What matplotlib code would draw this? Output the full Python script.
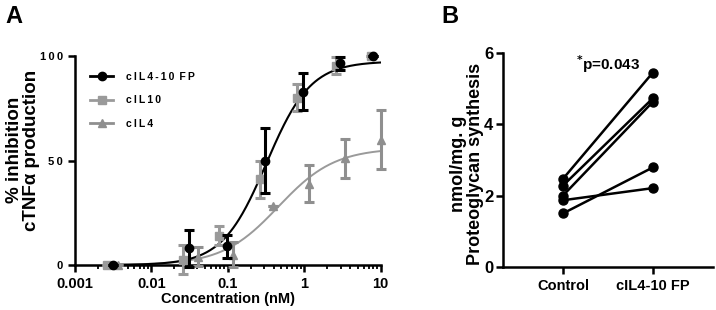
import numpy as np
import matplotlib
matplotlib.use("Agg")
import matplotlib.pyplot as plt
from matplotlib.ticker import LogLocator, NullFormatter, FixedLocator

plt.rcParams["font.family"] = ["Liberation Sans", "DejaVu Sans"]
plt.rcParams["font.weight"] = "bold"

# panel A: dose response (concentration nM, % inhibition, SEM)
fp_conc = [0.0031, 0.031, 0.098, 0.31, 0.97, 2.9, 8.0]
fp_mean = [0, 8, 9, 50, 83, 96.5, 100]
fp_err = [0, 9, 5.5, 15.5, 9, 3, 0]

il10_conc = [0.0026, 0.026, 0.077, 0.26, 0.8, 2.6, 7.5]
il10_mean = [0, 2.5, 14, 41, 80, 95.5, 100]
il10_err = [0, 7, 4.5, 9, 6.5, 4, 0]

il4_conc = [0.0037, 0.041, 0.117, 0.39, 1.15, 3.4, 10.0]
il4_mean = [0, 4, 5, 28.5, 39, 51, 60]
il4_err = [0, 4.5, 6, 0, 9, 9.5, 14]

# fitted curves: (bottom, top, EC50, hill)
fp_fit = (0, 97.5, 0.32, 1.5)
il4_fit = (0, 56, 0.46, 1.18)

# panel B: paired proteoglycan synthesis
groups = ["Control", "cIL4-10 FP"]
control_vals = [2.47, 2.28, 2.0, 1.87, 1.5]
fp_vals = [5.45, 4.73, 4.63, 2.21, 2.79]

black = "#000000"
gray = "#9a9a9a"
gray2 = "#8f8f8f"
sp = "\u2009"


def logistic(x, p):
    bottom, top, ec50, hill = p
    return bottom + (top - bottom) / (1 + (ec50 / x) ** hill)


fig = plt.figure(figsize=(7.16, 3.10), dpi=100)

ax = fig.add_axes([0.1047, 0.145, 0.427, 0.674])
xs = np.logspace(np.log10(0.0025), 1, 300)

ax.plot(xs, logistic(xs, il4_fit), color=gray, lw=1.4, zorder=1)
ax.plot(xs, logistic(xs, fp_fit), color=black, lw=1.5, zorder=2)

ax.errorbar(il10_conc, il10_mean, yerr=il10_err, fmt="s", color=gray,
            ms=6, elinewidth=2.2, capsize=3.5, capthick=2.2, zorder=3,
            clip_on=False)
ax.errorbar(il4_conc, il4_mean, yerr=il4_err, fmt="^", color=gray2,
            ms=6, elinewidth=2.2, capsize=3.5, capthick=2.2, zorder=3,
            clip_on=False)
ax.errorbar(fp_conc, fp_mean, yerr=fp_err, fmt="o", color=black,
            ms=6, elinewidth=2.2, capsize=3.5, capthick=2.2, zorder=4,
            clip_on=False)

h1, = ax.plot([], [], "-o", color=black, lw=2, ms=6)
h2, = ax.plot([], [], "-s", color=gray, lw=2, ms=6)
h3, = ax.plot([], [], "-^", color=gray2, lw=2, ms=6)
labels = [sp.join("cIL4-10") + sp + " " + sp.join("FP"),
          sp.join("cIL10"), sp.join("cIL4")]
ax.legend([h1, h2, h3], labels, loc="upper left",
          bbox_to_anchor=(0.02, 0.97), frameon=False,
          prop={"size": 7.5, "weight": "bold"}, handlelength=2.2,
          labelspacing=1.3, handletextpad=1.2)

ax.set_xscale("log")
ax.set_xlim(0.001, 10)
ax.set_ylim(0, 100)
ax.set_yticks([0, 50, 100])
ax.set_yticklabels(["0", sp.join("50"), sp.join("100")], fontsize=8,
                   fontweight="bold")
ax.xaxis.set_major_locator(FixedLocator([0.001, 0.01, 0.1, 1, 10]))
ax.set_xticklabels(["0.001", "0.01", "0.1", "1", "10"], fontsize=10.5,
                   fontweight="bold")
ax.xaxis.set_minor_locator(LogLocator(base=10, subs=np.arange(2, 10)))
ax.xaxis.set_minor_formatter(NullFormatter())
ax.tick_params(axis="y", width=1.8, length=5)
ax.tick_params(axis="x", which="major", width=1.8, length=5)
ax.tick_params(axis="x", which="minor", width=1.3, length=3)
for s in ["top", "right"]:
    ax.spines[s].set_visible(False)
for s in ["left", "bottom"]:
    ax.spines[s].set_linewidth(1.8)
ax.set_xlabel("Concentration (nM)", fontsize=10.5, fontweight="bold",
              labelpad=1)
ax.set_ylabel("% inhibition\ncTNF\u03b1 production", fontsize=13.5,
              fontweight="bold", linespacing=1.0)
ax.yaxis.set_label_coords(-0.115, 0.55)

# panel B
bx = fig.add_axes([0.7025, 0.139, 0.293, 0.690])
for c, f in zip(control_vals, fp_vals):
    bx.plot([0, 1], [c, f], "-o", color=black, lw=1.8, ms=6.5,
            clip_on=False)
bx.set_xlim(-0.667, 1.667)
bx.set_ylim(0, 6)
bx.set_yticks([0, 2, 4, 6])
bx.set_xticks([0, 1])
bx.set_xticklabels(groups, fontsize=10.5, fontweight="bold")
bx.tick_params(axis="y", labelsize=12, width=1.8, length=5, pad=2)
bx.tick_params(axis="x", width=1.8, length=5)
for s in ["top", "right"]:
    bx.spines[s].set_visible(False)
for s in ["left", "bottom"]:
    bx.spines[s].set_linewidth(1.8)
bx.set_ylabel("nmol/mg. g\nProteoglycan synthesis", fontsize=13,
              fontweight="bold", linespacing=1.0)
bx.yaxis.set_label_coords(-0.09, 0.48)
bx.text(0.5, 5.7, "$^{*}$p=0.043", ha="center", va="center",
        fontsize=11, fontweight="bold")

fig.text(0.008, 0.985, "A", fontsize=17, fontweight="bold", va="top")
fig.text(0.617, 0.985, "B", fontsize=17, fontweight="bold", va="top")

fig.savefig("out.png", dpi=100)
